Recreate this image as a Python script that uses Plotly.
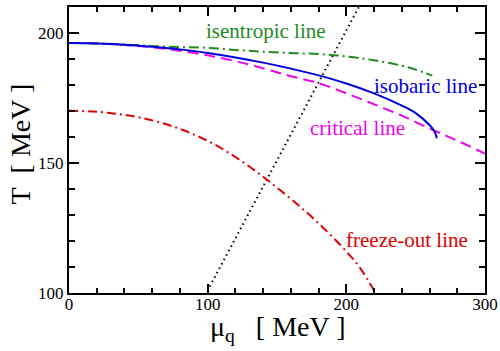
import plotly.graph_objects as go

# ---- data ----
crit_mu = [0, 20, 40, 60, 80, 100, 120, 140, 160, 180, 200, 220, 240, 260, 280, 300]
crit_T = [196.2, 196.0, 195.4, 194.5, 193.2, 191.4, 189.2, 186.4, 183.4, 180.7, 176.8, 172.6, 168.2, 163.3, 158.6, 153.6]

isob_mu = [0, 20, 40, 60, 80, 100, 120, 140, 160, 180, 200, 220, 240, 250, 260, 263, 264.5, 265.2]
isob_T = [196.2, 196.0, 195.5, 194.7, 193.7, 192.3, 190.6, 188.6, 186.3, 183.7, 180.6, 176.8, 172.1, 169.2, 164.6, 162.6, 161.0, 159.5]

isen_mu = [0, 20, 40, 60, 80, 100, 120, 140, 160, 180, 200, 220, 240, 250, 262]
isen_T = [196.2, 196.0, 195.6, 195.0, 194.6, 194.3, 193.5, 192.8, 192.3, 191.9, 191.0, 189.5, 187.4, 185.9, 183.6]

frz_mu = [0, 20, 40, 60, 80, 100, 120, 140, 160, 180, 200, 210, 221]
frz_T = [170.1, 169.7, 168.5, 166.4, 163.1, 158.5, 152.3, 144.7, 136.2, 126.8, 116.0, 109.6, 100.0]

dot_mu = [101.5, 211]
dot_T = [102.5, 212]

labels = ["isentropic line", "isobaric line", "critical line", "freeze-out line"]
label_mu = [141.8, 257.2, 207.8, 243.8]
label_T = [200.9, 179.5, 163.4, 120.5]

GREEN = "#1f8a1f"
BLUE = "#0000e0"
MAGENTA = "#f000f0"
RED = "#e00000"
FONT = "'Liberation Serif', 'Times New Roman', Times, serif"

fig = go.Figure()
fig.add_trace(go.Scatter(x=dot_mu, y=dot_T, mode="lines",
                         line=dict(color="black", width=2, dash="1.5px,3.5px")))
fig.add_trace(go.Scatter(x=frz_mu, y=frz_T, mode="lines", line_shape="spline",
                         line=dict(color=RED, width=2, dash="9px,4px,2px,4px")))
fig.add_trace(go.Scatter(x=crit_mu, y=crit_T, mode="lines", line_shape="spline",
                         line=dict(color=MAGENTA, width=2, dash="11px,6px")))
fig.add_trace(go.Scatter(x=isen_mu, y=isen_T, mode="lines", line_shape="spline",
                         line=dict(color=GREEN, width=2, dash="10px,4px,2px,4px")))
fig.add_trace(go.Scatter(x=isob_mu, y=isob_T, mode="lines", line_shape="spline",
                         line=dict(color=BLUE, width=2)))

colors = [GREEN, BLUE, MAGENTA, RED]
for t, xm, yt, c in zip(labels, label_mu, label_T, colors):
    fig.add_annotation(x=xm, y=yt, text=t, showarrow=False, xref="x", yref="y",
                       xanchor="center", yanchor="middle",
                       font=dict(family=FONT, size=21, color=c))

fig.add_annotation(x=0.502, y=-0.124, xref="paper", yref="paper", showarrow=False,
                   text="\u03bc<sub>q</sub>\u00a0\u00a0\u00a0[ MeV ]", xanchor="center", yanchor="middle",
                   font=dict(family=FONT, size=28, color="black"))
fig.add_annotation(x=-0.1166, y=0.521, xref="paper", yref="paper", showarrow=False,
                   text="T\u00a0\u00a0[ MeV ]", textangle=-90, xanchor="center", yanchor="middle",
                   font=dict(family=FONT, size=28, color="black"))

axis_common = dict(showgrid=False, zeroline=False, showline=True, linecolor="black", linewidth=2,
                   mirror="allticks", ticks="inside", tickwidth=2, tickcolor="black",
                   automargin=False,
                   tickfont=dict(family=FONT, size=17, color="black"))
fig.update_xaxes(range=[0, 300], tickvals=[0, 100, 200, 300], ticklen=9, ticklabelstandoff=-5,
                 minor=dict(dtick=20, tick0=0, ticks="inside", ticklen=5, tickwidth=2, tickcolor="black"),
                 **axis_common)
fig.update_yaxes(range=[100, 210], tickvals=[100, 150, 200], ticklen=10,
                 minor=dict(dtick=10, tick0=100, ticks="inside", ticklen=6, tickwidth=2, tickcolor="black"),
                 **axis_common)

fig.update_layout(width=500, height=351, margin=dict(l=69, r=15, t=7, b=58, autoexpand=False),
                  paper_bgcolor="white", plot_bgcolor="white", showlegend=False,
                  font=dict(family=FONT))
fig.write_html("out.html")
